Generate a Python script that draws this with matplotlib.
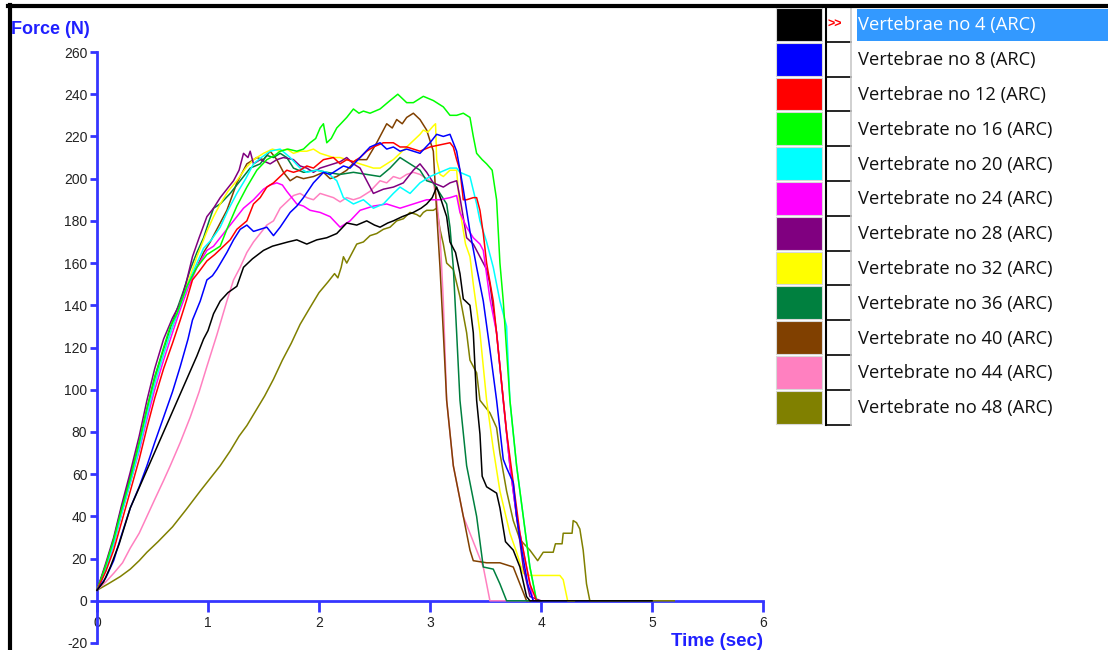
import matplotlib
matplotlib.use('Agg')
from matplotlib import pyplot as plt
from matplotlib.patches import Rectangle

plt.rcParams['font.family'] = ['Liberation Sans', 'DejaVu Sans']
plt.rcParams['axes.unicode_minus'] = False

names = ['Vertebrae no 4 (ARC)', 'Vertebrae no 8 (ARC)', 'Vertebrae no 12 (ARC)',
         'Vertebrate no 16 (ARC)', 'Vertebrate no 20 (ARC)', 'Vertebrate no 24 (ARC)',
         'Vertebrate no 28 (ARC)', 'Vertebrate no 32 (ARC)', 'Vertebrate no 36 (ARC)',
         'Vertebrate no 40 (ARC)', 'Vertebrate no 44 (ARC)', 'Vertebrate no 48 (ARC)']
colors = ['#000000', '#0000FF', '#FF0000', '#00FF00', '#00FFFF', '#FF00FF',
          '#800080', '#FFFF00', '#00803F', '#804000', '#FF80C0', '#808000']

# time (sec) / force (N)
t4 = [0, 0.06, 0.12, 0.2, 0.3, 0.4, 0.5, 0.6, 0.7, 0.8, 0.9, 0.96, 1.0, 1.05, 1.11, 1.18, 1.26, 1.32, 1.4, 1.5,
      1.58, 1.65, 1.72, 1.8, 1.89, 1.98, 2.07, 2.16, 2.25, 2.34, 2.43, 2.5, 2.55, 2.62, 2.67, 2.75, 2.85, 2.92, 2.97, 3.02,
      3.06, 3.1, 3.15, 3.18, 3.23, 3.27, 3.3, 3.36, 3.39, 3.42, 3.45, 3.47, 3.51, 3.6, 3.63, 3.68, 3.75, 3.81, 3.87, 3.9, 5.0]
f4 = [5, 9, 16, 27, 44, 56, 68, 80, 92, 104, 116, 124, 128, 136, 142, 146, 149, 158, 162, 166,
      168, 169, 170, 171, 169, 171, 172, 174, 179, 178, 180, 178, 177, 179, 180, 182, 184, 186, 188, 191,
      196, 190, 182, 170, 165, 155, 143, 140, 127, 95, 79, 59, 54, 51, 44, 28, 24, 16, 2, 0, 0]

t8 = [0, 0.08, 0.15, 0.22, 0.3, 0.38, 0.45, 0.52, 0.6, 0.68, 0.75, 0.82, 0.86, 0.93, 0.99, 1.04, 1.08, 1.17, 1.23, 1.29,
      1.35, 1.41, 1.47, 1.53, 1.59, 1.65, 1.74, 1.8, 1.86, 1.95, 2.04, 2.1, 2.16, 2.22, 2.28, 2.37, 2.46, 2.55, 2.61, 2.67,
      2.73, 2.79, 2.85, 2.91, 3.0, 3.06, 3.12, 3.18, 3.24, 3.27, 3.3, 3.36, 3.42, 3.48, 3.54, 3.6, 3.66, 3.69, 3.75, 3.78,
      3.83, 3.88, 3.93, 4.0]
f8 = [5, 11, 19, 31, 44, 54, 64, 75, 87, 99, 111, 124, 133, 142, 152, 154, 157, 165, 171, 176,
      178, 175, 176, 177, 173, 177, 184, 187, 191, 198, 203, 202, 204, 206, 205, 210, 215, 217, 214, 215,
      213, 214, 213, 212, 217, 221, 220, 221, 213, 204, 195, 175, 158, 142, 119, 95, 67, 63, 56, 40,
      23, 8, 0, 0]

t12 = [0, 0.08, 0.15, 0.22, 0.3, 0.38, 0.45, 0.52, 0.6, 0.68, 0.75, 0.81, 0.86, 0.92, 0.99, 1.06, 1.14, 1.2, 1.26, 1.35,
       1.41, 1.47, 1.53, 1.59, 1.65, 1.71, 1.77, 1.83, 1.89, 1.95, 2.04, 2.13, 2.19, 2.25, 2.31, 2.37, 2.43, 2.49, 2.58, 2.67,
       2.73, 2.79, 2.85, 2.91, 3.0, 3.09, 3.18, 3.21, 3.24, 3.27, 3.3, 3.33, 3.39, 3.42, 3.45, 3.48, 3.51, 3.57, 3.63, 3.69,
       3.75, 3.81, 3.9, 3.96, 4.0]
f12 = [5, 14, 24, 37, 52, 67, 82, 96, 110, 122, 133, 143, 152, 156, 161, 164, 168, 171, 176, 180,
       188, 191, 196, 198, 201, 204, 203, 204, 206, 205, 209, 210, 207, 209, 208, 210, 213, 215, 217, 217,
       215, 215, 214, 213, 215, 216, 217, 215, 209, 204, 190, 190, 191, 191, 185, 174, 160, 142, 111, 80,
       56, 32, 8, 0, 0]

t16 = [0, 0.08, 0.15, 0.22, 0.3, 0.38, 0.45, 0.52, 0.6, 0.66, 0.72, 0.81, 0.9, 0.99, 1.05, 1.11, 1.17, 1.26, 1.35, 1.44,
       1.53, 1.6, 1.65, 1.72, 1.8, 1.86, 1.92, 1.97, 2.01, 2.04, 2.07, 2.11, 2.16, 2.25, 2.31, 2.36, 2.4, 2.46, 2.55, 2.64,
       2.71, 2.75, 2.79, 2.85, 2.94, 3.03, 3.12, 3.18, 3.24, 3.3, 3.36, 3.39, 3.42, 3.47, 3.51, 3.56, 3.6, 3.63, 3.66, 3.72,
       3.78, 3.84, 3.9, 3.96, 4.0]
f16 = [5, 17, 29, 43, 58, 75, 91, 106, 120, 130, 136, 149, 158, 164, 166, 168, 176, 187, 196, 204,
       209, 211, 213, 214, 213, 214, 217, 219, 224, 226, 217, 219, 224, 229, 233, 231, 232, 231, 233, 237,
       240, 238, 236, 236, 239, 237, 234, 230, 230, 231, 229, 220, 212, 209, 207, 204, 190, 160, 142, 95,
       64, 40, 16, 0, 0]

t20 = [0, 0.08, 0.15, 0.22, 0.3, 0.38, 0.45, 0.52, 0.6, 0.68, 0.75, 0.82, 0.9, 0.96, 1.03, 1.11, 1.18, 1.26, 1.34, 1.41,
       1.48, 1.56, 1.65, 1.74, 1.83, 1.89, 1.98, 2.07, 2.16, 2.22, 2.31, 2.4, 2.49, 2.58, 2.67, 2.73, 2.82, 2.91, 3.0, 3.09,
       3.18, 3.24, 3.27, 3.36, 3.42, 3.45, 3.51, 3.57, 3.63, 3.69, 3.72, 3.78, 3.84, 3.9, 3.96, 4.0]
f20 = [5, 15, 27, 41, 56, 72, 88, 103, 117, 130, 140, 150, 160, 167, 171, 177, 185, 193, 200, 207,
       210, 213, 214, 210, 205, 203, 204, 203, 199, 191, 188, 190, 186, 188, 193, 196, 193, 198, 201, 203,
       205, 205, 203, 201, 188, 180, 170, 158, 142, 130, 95, 64, 40, 16, 0, 0]

t24 = [0, 0.08, 0.15, 0.22, 0.3, 0.38, 0.45, 0.52, 0.6, 0.68, 0.75, 0.82, 0.9, 0.99, 1.05, 1.11, 1.17, 1.23, 1.32, 1.41,
       1.5, 1.56, 1.62, 1.67, 1.71, 1.8, 1.86, 1.92, 2.01, 2.1, 2.19, 2.28, 2.37, 2.49, 2.61, 2.73, 2.85, 2.97, 3.09, 3.18,
       3.24, 3.27, 3.33, 3.39, 3.45, 3.48, 3.54, 3.6, 3.66, 3.72, 3.78, 3.87, 3.93, 4.0]
f24 = [5, 15, 27, 41, 56, 71, 86, 100, 114, 127, 138, 148, 158, 166, 168, 172, 176, 180, 186, 190,
       195, 197, 198, 197, 194, 188, 187, 185, 184, 182, 177, 180, 185, 187, 188, 186, 188, 190, 190, 191,
       192, 184, 177, 172, 169, 166, 143, 127, 95, 64, 40, 16, 0, 0]

t28 = [0, 0.08, 0.15, 0.22, 0.3, 0.38, 0.45, 0.52, 0.6, 0.68, 0.75, 0.8, 0.86, 0.92, 0.99, 1.05, 1.11, 1.17, 1.23, 1.28,
       1.32, 1.36, 1.38, 1.41, 1.47, 1.56, 1.62, 1.68, 1.77, 1.83, 1.89, 1.95, 2.01, 2.07, 2.13, 2.19, 2.25, 2.31, 2.37, 2.43,
       2.49, 2.58, 2.67, 2.76, 2.85, 2.91, 2.97, 3.03, 3.12, 3.18, 3.24, 3.27, 3.33, 3.39, 3.45, 3.51, 3.54, 3.6, 3.66, 3.72,
       3.78, 3.84, 3.9, 4.0]
f28 = [5, 18, 30, 45, 61, 78, 95, 110, 124, 134, 141, 150, 163, 172, 182, 186, 191, 195, 199, 204,
       212, 210, 213, 207, 209, 207, 209, 210, 209, 206, 205, 203, 205, 206, 207, 208, 210, 207, 205, 199,
       193, 195, 196, 198, 204, 207, 203, 198, 196, 198, 199, 191, 172, 169, 163, 157, 150, 127, 95, 64,
       40, 16, 2, 0]

t32 = [0, 0.08, 0.15, 0.22, 0.3, 0.38, 0.45, 0.52, 0.6, 0.68, 0.75, 0.82, 0.9, 0.99, 1.05, 1.11, 1.18, 1.26, 1.34, 1.41,
       1.5, 1.58, 1.65, 1.71, 1.77, 1.83, 1.89, 1.95, 2.01, 2.07, 2.13, 2.19, 2.25, 2.31, 2.37, 2.43, 2.49, 2.55, 2.61, 2.67,
       2.73, 2.79, 2.85, 2.91, 2.94, 2.98, 3.03, 3.05, 3.06, 3.09, 3.12, 3.18, 3.24, 3.27, 3.32, 3.36, 3.39, 3.45, 3.51, 3.57,
       3.63, 3.72, 3.78, 3.84, 3.9, 4.05, 4.17, 4.2, 4.24, 4.3]
f32 = [5, 15, 27, 41, 56, 72, 88, 103, 117, 130, 141, 151, 163, 175, 182, 188, 194, 199, 205, 209,
       212, 214, 213, 214, 212, 213, 213, 214, 212, 211, 210, 210, 209, 208, 207, 206, 205, 205, 207, 209,
       212, 215, 218, 221, 223, 222, 225, 226, 209, 202, 201, 204, 204, 185, 169, 163, 150, 127, 95, 72,
       52, 32, 23, 13, 12, 12, 12, 10, 0, 0]

t36 = [0, 0.08, 0.15, 0.22, 0.3, 0.38, 0.45, 0.52, 0.6, 0.66, 0.72, 0.78, 0.84, 0.9, 0.96, 1.01, 1.05, 1.11, 1.2, 1.29,
       1.38, 1.47, 1.53, 1.59, 1.65, 1.71, 1.77, 1.86, 1.98, 2.07, 2.19, 2.31, 2.43, 2.55, 2.64, 2.73, 2.82, 2.91, 2.97, 3.03,
       3.09, 3.15, 3.18, 3.21, 3.24, 3.27, 3.33, 3.42, 3.48, 3.57, 3.63, 3.69, 3.9]
f36 = [5, 17, 29, 44, 59, 75, 91, 106, 119, 129, 138, 147, 157, 165, 172, 180, 186, 188, 193, 199,
       205, 207, 211, 210, 212, 210, 205, 203, 204, 203, 202, 203, 202, 201, 205, 210, 207, 204, 199, 198,
       193, 188, 177, 158, 127, 95, 64, 40, 16, 15, 8, 0, 0]

t40 = [0, 0.08, 0.15, 0.22, 0.3, 0.38, 0.45, 0.52, 0.6, 0.68, 0.76, 0.84, 0.9, 0.96, 1.02, 1.08, 1.17, 1.26, 1.35, 1.44,
       1.5, 1.56, 1.62, 1.68, 1.74, 1.8, 1.86, 1.95, 2.04, 2.1, 2.16, 2.25, 2.34, 2.43, 2.52, 2.57, 2.61, 2.66, 2.7, 2.75,
       2.79, 2.85, 2.91, 2.97, 3.03, 3.06, 3.09, 3.12, 3.15, 3.21, 3.3, 3.36, 3.39, 3.51, 3.63, 3.75, 3.81, 3.87, 3.9]
f40 = [5, 16, 28, 42, 57, 73, 89, 104, 118, 130, 142, 153, 158, 165, 170, 176, 185, 198, 207, 210,
       209, 213, 209, 203, 199, 201, 200, 201, 203, 200, 201, 204, 209, 209, 217, 222, 226, 224, 228, 226,
       229, 231, 228, 223, 213, 184, 158, 127, 95, 64, 40, 24, 19, 18, 18, 16, 8, 0, 0]

t44 = [0, 0.08, 0.15, 0.23, 0.3, 0.38, 0.45, 0.52, 0.6, 0.66, 0.75, 0.84, 0.92, 0.99, 1.08, 1.17, 1.23, 1.29, 1.35, 1.41,
       1.47, 1.53, 1.59, 1.65, 1.71, 1.77, 1.83, 1.89, 1.95, 2.01, 2.07, 2.13, 2.19, 2.25, 2.31, 2.37, 2.46, 2.55, 2.61, 2.67,
       2.73, 2.79, 2.85, 2.91, 2.97, 3.03, 3.06, 3.09, 3.12, 3.15, 3.21, 3.3, 3.42, 3.48, 3.54, 3.9]
f44 = [5, 9, 13, 18, 25, 32, 40, 48, 57, 64, 75, 87, 99, 111, 126, 142, 152, 158, 165, 170,
       174, 178, 180, 186, 189, 192, 193, 191, 190, 193, 192, 191, 189, 191, 190, 191, 194, 199, 198, 201,
       200, 202, 203, 202, 200, 198, 190, 174, 142, 95, 64, 40, 24, 16, 0, 0]

t48 = [0, 0.1, 0.21, 0.3, 0.38, 0.45, 0.55, 0.68, 0.8, 0.93, 1.02, 1.11, 1.2, 1.28, 1.35, 1.43, 1.51, 1.59, 1.67, 1.75,
       1.83, 1.92, 2.0, 2.08, 2.14, 2.17, 2.2, 2.22, 2.25, 2.34, 2.4, 2.46, 2.52, 2.58, 2.64, 2.7, 2.76, 2.82, 2.88, 2.91,
       2.94, 2.97, 3.03, 3.06, 3.09, 3.12, 3.15, 3.21, 3.27, 3.33, 3.36, 3.42, 3.45, 3.54, 3.6, 3.63, 3.69, 3.75, 3.81, 3.9,
       3.97, 4.02, 4.11, 4.13, 4.19, 4.2, 4.28, 4.29, 4.32, 4.35, 4.38, 4.41, 4.44, 5.2]
f48 = [5, 8, 11.5, 15, 19, 23, 28, 35, 43, 52, 58, 64, 71, 78, 83, 90, 97, 105, 114, 122,
       131, 139, 146, 151, 155, 153, 158, 163, 160, 169, 170, 173, 174, 176, 177, 180, 181, 184, 183, 182,
       184, 185, 185, 186, 176, 169, 160, 157, 144, 127, 114, 108, 95, 89, 82, 70, 52, 38, 29, 24,
       19, 23, 23, 27, 27, 32, 32, 38, 37, 34, 24, 8, 0, 0]

times = [t4, t8, t12, t16, t20, t24, t28, t32, t36, t40, t44, t48]
forces = [f4, f8, f12, f16, f20, f24, f28, f32, f36, f40, f44, f48]

axis_blue = '#3535FF'
W, H = 1108, 650

fig = plt.figure(figsize=(W / 100, H / 100), dpi=100)
ax = fig.add_axes([97 / W, 7 / H, 666 / W, 591 / H])

# draw last series first so "no 4" ends up on top
for i in reversed(range(len(names))):
    ax.plot(times[i], forces[i], color=colors[i], lw=1.1, zorder=3, clip_on=False)

ax.set_xlim(0, 6)
ax.set_ylim(-20, 260)
ax.set_xticks(range(0, 7))
ax.set_yticks(range(-20, 261, 20))
for s in ['top', 'right']:
    ax.spines[s].set_visible(False)
ax.spines['bottom'].set_position(('data', 0))
ax.spines['bottom'].set_bounds(0, 6)
ax.spines['left'].set_bounds(-20, 260)
for s in ['bottom', 'left']:
    ax.spines[s].set_color(axis_blue)
    ax.spines[s].set_linewidth(2)
ax.tick_params(axis='y', direction='out', length=5, width=2, color=axis_blue,
               labelsize=10, labelcolor='#222222', pad=2)
ax.tick_params(axis='x', direction='out', length=8, width=2, color=axis_blue,
               labelsize=10, labelcolor='#222222', pad=3)
ax.patch.set_visible(False)

fig.text(11 / W, 1 - 30 / H, 'Force (N)', color='#2020FF', fontsize=13,
         fontweight='bold', ha='left', va='center')
fig.text(763 / W, 1 - 641 / H, 'Time (sec)', color='#2020FF', fontsize=13.5,
         fontweight='bold', ha='right', va='center')

# legend panel on top, in pixel coordinates
ov = fig.add_axes([0, 0, 1, 1])
ov.set_xlim(0, W)
ov.set_ylim(H, 0)
ov.axis('off')

row_h = 34.8
top0 = 7
for i, (name, c) in enumerate(zip(names, colors)):
    top = top0 + i * row_h
    ov.add_patch(Rectangle((776, top + 1), 46, row_h - 2, facecolor=c,
                           edgecolor='#D8D8D8', lw=0.8))
    ov.plot([826, 851], [top + row_h, top + row_h], color='black', lw=1.2)
    txt_color = '#111111'
    if i == 0:
        ov.add_patch(Rectangle((857, top + 2), W - 857, row_h - 3, facecolor='#3399FF',
                               edgecolor='none'))
        txt_color = 'white'
        ov.text(827, top + row_h / 2, '>>', color='red', fontsize=9,
                fontweight='bold', va='center', ha='left')
    ov.text(858, top + row_h / 2 + 1, name, color=txt_color, fontsize=13.2,
            family=['Open Sans', 'DejaVu Sans'], va='center', ha='left')

ov.plot([826, 826], [top0, top0 + 12 * row_h], color='black', lw=1.5)
ov.plot([851, 851], [top0, top0 + 12 * row_h], color='#C8C8C8', lw=1.2)

# screenshot frame
ov.plot([8, W], [6, 6], color='black', lw=3)
ov.plot([9.5, 9.5], [5, H], color='black', lw=3)

fig.savefig('out.png', dpi=100)
